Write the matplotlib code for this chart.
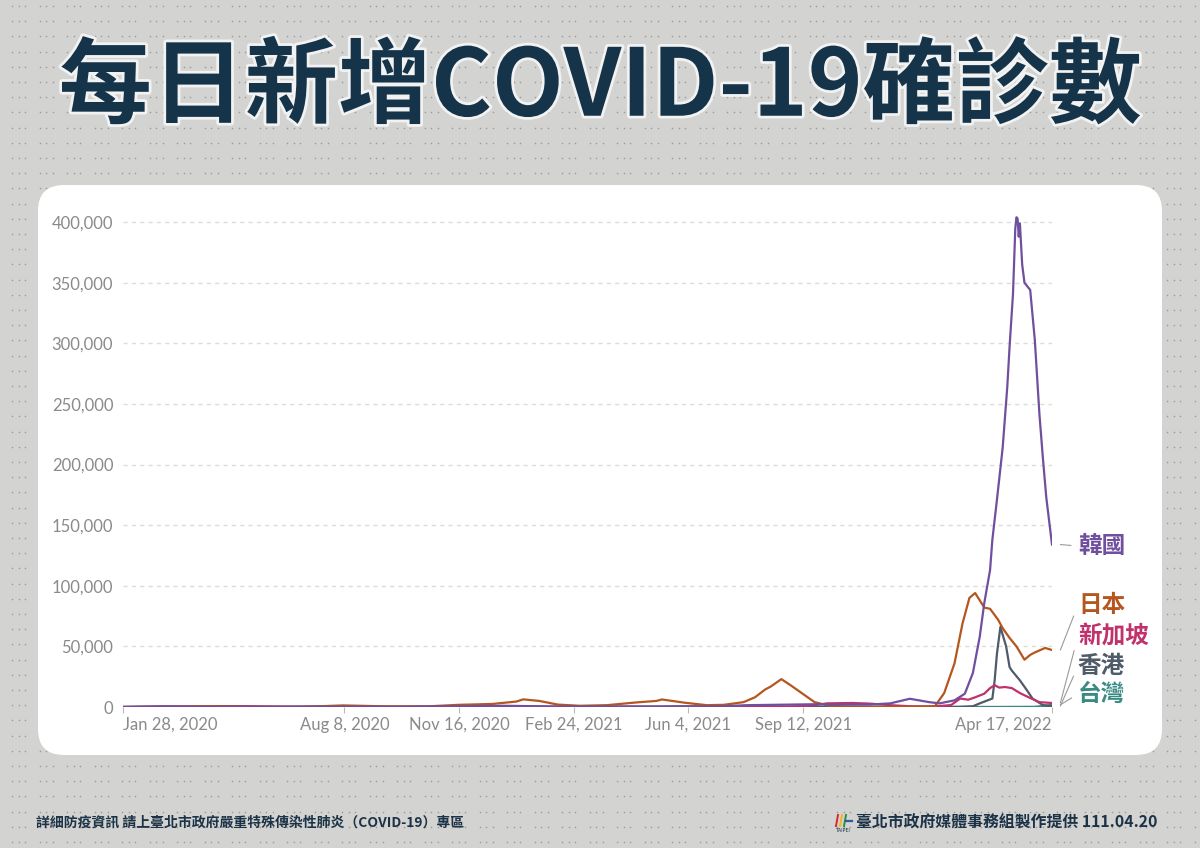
import numpy as np
import pandas as pd
import matplotlib
matplotlib.use('Agg')
import matplotlib.pyplot as plt
import matplotlib.dates as mdates
from matplotlib.patches import FancyBboxPatch
from matplotlib import patheffects
from matplotlib.ticker import FuncFormatter

CJK = ['Noto Sans CJK TC', 'DejaVu Sans']
plt.rcParams['font.family'] = ['Lato', 'DejaVu Sans']

# ---- data (7-day average of new daily cases) ----
korea_dates = ['2020-01-28', '2020-03-03', '2020-04-15', '2020-08-28', '2020-09-20', '2020-12-25',
               '2021-02-10', '2021-07-01', '2021-07-25', '2021-09-25', '2021-10-03', '2021-11-09',
               '2021-11-27', '2021-12-14', '2021-12-31', '2022-01-09', '2022-01-22', '2022-01-31',
               '2022-02-07', '2022-02-13', '2022-02-17', '2022-02-22', '2022-02-24', '2022-02-28',
               '2022-03-05', '2022-03-09', '2022-03-11', '2022-03-14', '2022-03-16', '2022-03-17',
               '2022-03-18', '2022-03-19', '2022-03-20', '2022-03-22', '2022-03-24', '2022-03-29',
               '2022-04-02', '2022-04-06', '2022-04-09', '2022-04-12', '2022-04-17']
korea_cases = [0, 550, 30, 300, 100, 1000,
               400, 500, 1500, 2300, 2000, 2000,
               3000, 6800, 4000, 3000, 5500, 11000,
               28000, 58000, 86000, 113000, 138000, 171000,
               214000, 264000, 297000, 341000, 395000, 404000,
               403000, 388000, 399000, 365000, 350000, 344000,
               303000, 242000, 206000, 173000, 134000]

japan_dates = ['2020-01-28', '2020-04-12', '2020-05-20', '2020-07-01', '2020-08-07', '2020-09-15',
               '2020-10-20', '2020-11-16', '2020-12-15', '2021-01-05', '2021-01-11', '2021-01-25',
               '2021-02-10', '2021-03-01', '2021-03-25', '2021-04-20', '2021-05-07', '2021-05-12',
               '2021-06-01', '2021-06-20', '2021-07-05', '2021-07-22', '2021-08-01', '2021-08-10',
               '2021-08-15', '2021-08-24', '2021-09-01', '2021-09-10', '2021-09-22', '2021-10-05',
               '2021-10-20', '2021-11-15', '2021-12-20', '2022-01-05', '2022-01-13', '2022-01-22',
               '2022-01-29', '2022-02-04', '2022-02-09', '2022-02-17', '2022-02-22', '2022-03-01',
               '2022-03-05', '2022-03-11', '2022-03-17', '2022-03-24', '2022-03-29', '2022-04-02',
               '2022-04-11', '2022-04-17']
japan_cases = [0, 550, 50, 100, 1300, 500,
               550, 1800, 2500, 4500, 6300, 5000,
               2000, 1000, 1500, 3800, 5000, 6200,
               3500, 1500, 1800, 4000, 8000, 14500,
               17000, 23000, 18000, 12000, 4000, 1000,
               400, 150, 200, 700, 11500, 36000,
               69000, 90000, 94000, 82000, 81000, 72000,
               65000, 57000, 50000, 39000, 43000, 45000,
               48700, 47000]

singapore_dates = ['2020-01-28', '2020-04-20', '2020-05-15', '2020-06-15', '2020-08-01', '2020-09-01',
                   '2021-08-01', '2021-09-01', '2021-09-20', '2021-10-03', '2021-10-25', '2021-11-09',
                   '2021-11-27', '2021-12-14', '2021-12-31', '2022-01-09', '2022-01-19', '2022-01-27',
                   '2022-02-03', '2022-02-09', '2022-02-17', '2022-02-22', '2022-02-26', '2022-03-02',
                   '2022-03-07', '2022-03-13', '2022-03-20', '2022-03-29', '2022-04-06', '2022-04-17']
singapore_cases = [0, 700, 700, 300, 300, 50,
                   100, 400, 1200, 3000, 3300, 2800,
                   1500, 600, 400, 800, 1600, 7000,
                   6000, 8000, 11000, 15600, 18000, 16000,
                   16500, 15600, 11500, 7400, 4000, 3300]

hongkong_dates = ['2020-01-28', '2020-07-28', '2020-12-05', '2021-12-31', '2022-01-25', '2022-02-07',
                  '2022-02-13', '2022-02-24', '2022-02-26', '2022-02-28', '2022-03-03', '2022-03-08',
                  '2022-03-11', '2022-03-13', '2022-03-20', '2022-03-26', '2022-03-31', '2022-04-09',
                  '2022-04-17']
hongkong_cases = [0, 100, 100, 10, 100, 600,
                  3000, 7000, 22000, 44000, 66000, 50000,
                  33000, 30000, 22000, 14000, 7000, 1600,
                  800]

taiwan_dates = ['2020-01-28', '2021-05-10', '2021-05-25', '2021-06-10', '2021-07-01', '2021-08-01',
                '2022-03-01', '2022-04-01', '2022-04-10', '2022-04-17']
taiwan_cases = [0, 10, 450, 400, 100, 10,
                50, 150, 800, 1800]

names = ['韓國', '日本', '新加坡', '香港', '台灣']
colors = ['#6f4f9e', '#b5561f', '#c0326c', '#4f5b68', '#3a8a84']

tick_dates = ['2020-01-28', '2020-08-08', '2020-11-16', '2021-02-24', '2021-06-04', '2021-09-12', '2022-04-17']
y_ticks = [0, 50000, 100000, 150000, 200000, 250000, 300000, 350000, 400000]

series = [(korea_dates, korea_cases), (japan_dates, japan_cases), (singapore_dates, singapore_cases),
          (hongkong_dates, hongkong_cases), (taiwan_dates, taiwan_cases)]

# ---- figure + background ----
W, H = 1200, 848
fig = plt.figure(figsize=(W / 100, H / 100), dpi=100, facecolor='#d3d3d1')
bg = fig.add_axes([0, 0, 1, 1], zorder=-1)
bg.set_xlim(0, W)
bg.set_ylim(H, 0)
bg.axis('off')

# dotted texture: groups of three dots
gx = np.arange(12, W, 27.5)
gy = np.arange(6, H, 15.2)
dx = np.concatenate([gx, gx + 6.5, gx + 13])
DX, DY = np.meshgrid(dx, gy)
bg.scatter(DX.ravel(), DY.ravel(), s=1.3, c='#a09b9b', linewidths=0, zorder=1)

panel = FancyBboxPatch((38, 185), 1124, 570, boxstyle='round,pad=0,rounding_size=26',
                       fc='white', ec='none', zorder=2)
bg.add_patch(panel)

# title
fig.text(0.5, 1 - 88 / H, '每日新增COVID-19確診數', family=CJK, fontsize=67, fontweight='black',
         color='#15344a', ha='center', va='center',
         path_effects=[patheffects.withStroke(linewidth=4, foreground='#f2f2f2')])

# ---- main chart ----
ax = fig.add_axes([123 / W, 141 / H, 929 / W, 497 / H])
ax.patch.set_alpha(0)
for (d, v), c in zip(series[::-1], colors[::-1]):
    ax.plot(pd.to_datetime(d), v, color=c, lw=1.6, solid_joinstyle='round')

ax.axhline(0, color='#4a4f5a', lw=1.3, zorder=1)
ax.set_xlim(pd.Timestamp('2020-01-28'), pd.Timestamp('2022-04-17'))
ax.set_ylim(0, 410000)
ax.set_yticks(y_ticks)
ax.yaxis.set_major_formatter(FuncFormatter(lambda v, p: f'{int(v):,}'))
ax.grid(axis='y', color='#dcdcdc', ls=(0, (3, 3)), lw=1)
ax.set_axisbelow(True)
for s in ax.spines.values():
    s.set_visible(False)
ax.tick_params(axis='y', length=0, pad=7, labelsize=12, labelcolor='#8a8a8a')
ax.set_xticks(pd.to_datetime(tick_dates))
ax.xaxis.set_major_formatter(mdates.DateFormatter('%b %-d, %Y'))
ax.tick_params(axis='x', length=4, color='#bbbbbb', pad=3, labelsize=12, labelcolor='#8a8a8a')
xl = ax.get_xticklabels()
xl[0].set_ha('left')
xl[-1].set_ha('right')

# right-hand labels
label_y = [546, 605, 636, 666, 694]
for (d, v), n, c, ly in zip(series, names, colors, label_y):
    ax.annotate(n, xy=(1.009, v[-1]), xycoords=ax.get_yaxis_transform(),
                xytext=(1078, H - ly), textcoords='figure pixels',
                family=CJK, fontsize=17, fontweight='bold', color=c, ha='left', va='center',
                arrowprops=dict(arrowstyle='-', color='#9a9a9a', lw=0.8,
                                shrinkA=3, shrinkB=0, relpos=(0, 0.5)))

# footer
fig.text(36 / W, 1 - 823 / H, '詳細防疫資訊 請上臺北市政府嚴重特殊傳染性肺炎（COVID-19）專區',
         family=CJK, fontsize=10, fontweight='bold', color='#1c3347', ha='left', va='center')
fig.text(1157 / W, 1 - 823 / H, '臺北市政府媒體事務組製作提供 111.04.20',
         family=CJK, fontsize=11.4, fontweight='bold', color='#1c3347', ha='right', va='center')
# tiny Taipei logo
for x0, c in zip([836, 840, 844], ['#d8262c', '#f2b51c', '#2a8f3c']):
    bg.plot([x0, x0 + 2], [826, 815], color=c, lw=1.4, zorder=3)
bg.plot([846, 852], [821, 821], color='#2d5ba8', lw=1.6, zorder=3)
bg.text(843, 830, 'TAIPEI', fontsize=3.5, ha='center', va='center', color='#1c3347', zorder=3)

fig.savefig('out.png', dpi=100, facecolor=fig.get_facecolor())
